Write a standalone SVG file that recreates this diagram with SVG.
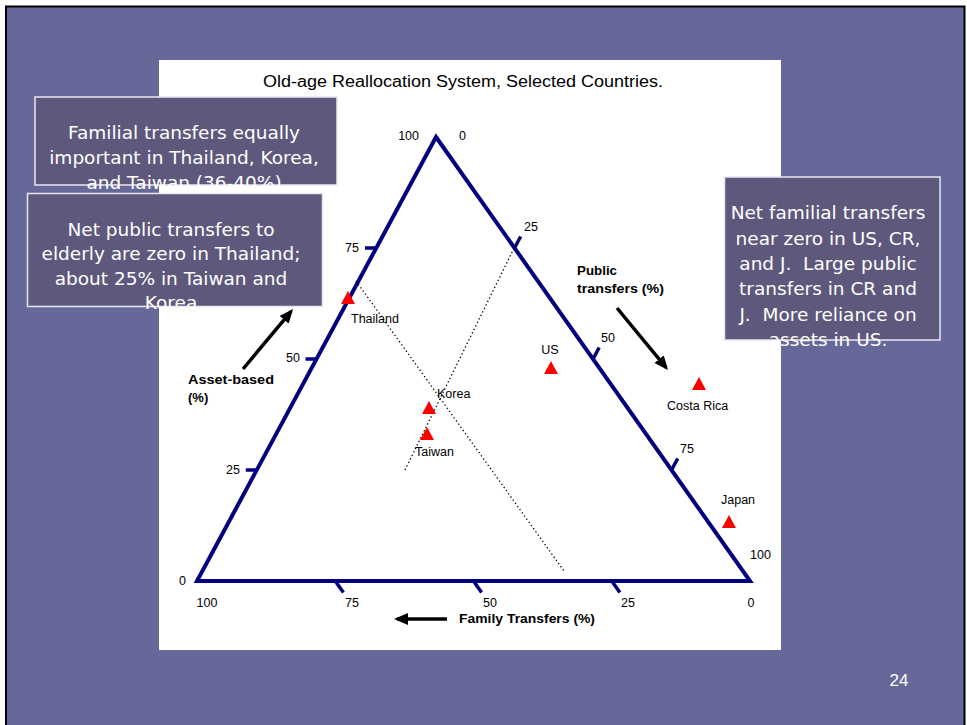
<svg xmlns="http://www.w3.org/2000/svg" width="967" height="725" viewBox="0 0 967 725">
<style>
.box{fill:#5E587D;stroke:#E8E8F4;stroke-width:1.5}
.bt{font-family:"DejaVu Sans",Verdana,sans-serif;font-size:18.5px;fill:#FFFFFF;text-anchor:middle}
.ax{stroke:#000080;stroke-width:4;fill:none;stroke-linejoin:miter}
.tk{stroke:#000080;stroke-width:3.5;fill:none}
.lb{font-family:"Liberation Sans",Arial,sans-serif;font-size:12.5px;fill:#000}
.bd{font-family:"Liberation Sans",Arial,sans-serif;font-size:13px;font-weight:bold;fill:#000}
.dot{stroke:#000;stroke-width:1.3;stroke-dasharray:1.3 2.6;fill:none}
.mk{fill:#FF0000}
.arr{stroke:#000;stroke-width:3.5;fill:none;marker-end:url(#ah)}
.e{text-anchor:end}
.m{text-anchor:middle}
</style>
<defs>
<marker id="ah" markerUnits="userSpaceOnUse" markerWidth="14" markerHeight="12" refX="11" refY="6" orient="auto" viewBox="0 0 14 12"><path d="M0,0 L14,6 L0,12 z" fill="#000"/></marker>
</defs>
<rect x="0" y="0" width="967" height="725" fill="#FFFFFF"/>
<rect id="slide" x="6" y="6.5" width="958.5" height="730" fill="#67689A" stroke="#000" stroke-width="2"/>
<rect id="chart" x="159" y="60" width="622" height="590" fill="#FFFFFF"/>
<text class="lb m" x="463" y="87" style="font-size:16px" textLength="400" lengthAdjust="spacingAndGlyphs">Old-age Reallocation System, Selected Countries.</text>

<g id="triangle">
<path class="ax" d="M436,137 L750,581 L197,581 Z"/>
<path class="tk" d="M376.25,248 H365 M316.5,359 H305.5 M256.75,470 H245.75"/>
<path class="tk" d="M514.5,248 L520.7,236.5 M593,359 L599.2,347.5 M671.5,470 L677.7,458.5"/>
<path class="tk" d="M335.25,581 L343.4,592.4 M473.5,581 L481.6,592.4 M611.75,581 L619.9,592.4"/>
<text class="lb e" x="419" y="140">100</text>
<text class="lb e" x="359" y="252">75</text>
<text class="lb e" x="300" y="362">50</text>
<text class="lb e" x="240" y="474">25</text>
<text class="lb e" x="186" y="585">0</text>
<text class="lb" x="459" y="140">0</text>
<text class="lb" x="524" y="231">25</text>
<text class="lb" x="601" y="342">50</text>
<text class="lb" x="680" y="453">75</text>
<text class="lb" x="750" y="559">100</text>
<text class="lb m" x="207" y="607">100</text>
<text class="lb m" x="352" y="607">75</text>
<text class="lb m" x="490" y="607">50</text>
<text class="lb m" x="628" y="607">25</text>
<text class="lb m" x="751" y="607">0</text>
</g>

<g id="connectors">
<path class="dot" d="M356,281 L564,571"/>
<path class="dot" d="M405,470 L520,236"/>
<path class="arr" d="M243,369 L291.1,311.3"/>
<path class="arr" d="M617,308 L666.1,367.7"/>
<path class="arr" d="M447,619 L397,619"/>
</g>

<g id="axis-labels">
<text class="bd" x="188" y="384" textLength="86" lengthAdjust="spacingAndGlyphs">Asset-based</text>
<text class="bd" x="188" y="402">(%)</text>
<text class="bd" x="577" y="275" textLength="40" lengthAdjust="spacingAndGlyphs">Public</text>
<text class="bd" x="577" y="293" textLength="87" lengthAdjust="spacingAndGlyphs">transfers (%)</text>
<text class="bd" x="459" y="623" textLength="136" lengthAdjust="spacingAndGlyphs">Family Transfers (%)</text>
</g>

<g id="thailand"><polygon class="mk" points="348,291 355,304 341,304"/><text class="lb" x="351" y="323">Thailand</text></g>
<g id="korea"><polygon class="mk" points="429,401 436,414 422,414"/><text class="lb" x="437" y="398">Korea</text></g>
<g id="taiwan"><polygon class="mk" points="427,427 434,440 420,440"/><text class="lb" x="415" y="456">Taiwan</text></g>
<g id="us"><polygon class="mk" points="551,361 558,374 544,374"/><text class="lb m" x="550" y="354">US</text></g>
<g id="costa-rica"><polygon class="mk" points="699,377 706,390 692,390"/><text class="lb" x="667" y="410">Costa Rica</text></g>
<g id="japan"><polygon class="mk" points="729,515 736,528 722,528"/><text class="lb" x="721" y="504">Japan</text></g>

<g id="box-familial">
<rect class="box" x="35" y="97" width="302" height="88"/>
<text class="bt" x="184" y="139">Familial transfers equally</text>
<text class="bt" x="184" y="164">important in Thailand, Korea,</text>
<text class="bt" x="184" y="189">and Taiwan (36-40%)</text>
</g>
<g id="box-public">
<rect class="box" x="27.5" y="193.5" width="295" height="113"/>
<text class="bt" x="171" y="236">Net public transfers to</text>
<text class="bt" x="171" y="260">elderly are zero in Thailand;</text>
<text class="bt" x="171" y="285">about 25% in Taiwan and</text>
<text class="bt" x="171" y="309">Korea</text>
</g>
<g id="box-us">
<rect class="box" x="724.5" y="177" width="215.5" height="163"/>
<text class="bt" x="828" y="219">Net familial transfers</text>
<text class="bt" x="828" y="244.5">near zero in US, CR,</text>
<text class="bt" x="828" y="270" xml:space="preserve">and J.  Large public</text>
<text class="bt" x="828" y="295">transfers in CR and</text>
<text class="bt" x="828" y="320.5" xml:space="preserve">J.  More reliance on</text>
<text class="bt" x="828" y="346">assets in US.</text>
</g>
<text x="899" y="686" style="font-family:'Liberation Sans',Arial,sans-serif;font-size:17px;fill:#FFFFFF;text-anchor:middle">24</text>
</svg>
